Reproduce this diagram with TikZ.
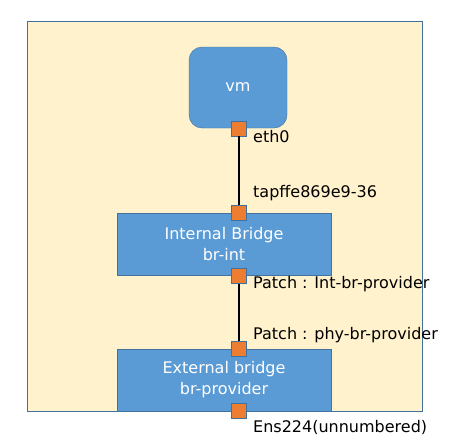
\documentclass[tikz,border=0pt]{standalone}
\usepackage{fontspec}
\setmainfont{DejaVu Sans}
\definecolor{bgyellow}{HTML}{FFF2CC}
\definecolor{edgeblue}{HTML}{41719C}
\definecolor{boxblue}{HTML}{5B9BD5}
\definecolor{portorange}{HTML}{ED7D31}
\tikzset{
  bridgebox/.style={draw=edgeblue,fill=boxblue,text=white,minimum width=214pt,minimum height=62pt,align=center,font=\fontsize{16}{21}\selectfont},
  portbox/.style={draw=edgeblue,fill=portorange,minimum size=15pt,inner sep=0pt},
  portlabel/.style={anchor=west,inner sep=0pt,font=\fontsize{16}{18}\selectfont},
  wire/.style={line width=2.6pt}
}
\begin{document}
\begin{tikzpicture}[x=1pt,y=-1pt]
	\useasboundingbox (0,0) rectangle (454,440);
	\fill[bgyellow] (27,21) rectangle (422,411);
	\draw[edgeblue,line width=.8pt] (27,21) rectangle (422,411);
	\node[bridgebox,rounded corners=13pt,minimum width=98pt,minimum height=81pt] (vm) at (238,87.5) {vm};
	\node[bridgebox] (brint) at (224,244) {Internal Bridge\\br-int};
	\node[bridgebox] (brprov) at (224,380) {External bridge\\br-provider};
	\node[portbox] (eth0) at (239,128.5) {};
	\node[portbox] (tap) at (239,213) {};
	\node[portbox] (patchint) at (239,276) {};
	\node[portbox] (patchphy) at (239,349) {};
	\node[portbox] (ens) at (239,411) {};
	\draw[wire] (eth0) -- (tap);
	\draw[wire] (patchint) -- (patchphy);
	\node[portlabel] (eth0txt) at (253,137) {eth0};
	\node[portlabel] (taptxt) at (253,193) {tapffe869e9-36};
	\node[portlabel] (patchinttxt) at (253,284) {Patch : Int-br-provider};
	\node[portlabel] (patchphytxt) at (253,335) {Patch : phy-br-provider};
	\node[portlabel] (enstxt) at (253,427) {Ens224(unnumbered)};
\end{tikzpicture}
\end{document}
